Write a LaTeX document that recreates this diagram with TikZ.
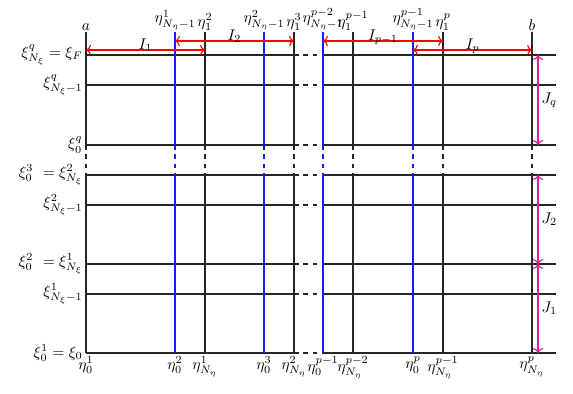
\documentclass[tikz,border=0pt]{standalone}
\usetikzlibrary{arrows.meta}
\definecolor{jpink}{RGB}{235,30,150}
\begin{document}
\begin{tikzpicture}[x=0.645pt,y=-0.645pt,
  gridline/.style={line width=0.85pt,black!85},
  blueline/.style={line width=0.85pt,blue!90!white},
  iarrow/.style={<->,red,line width=0.7pt},
  jarrow/.style={<->,jpink,line width=0.7pt},
  toplab/.style={above,inner sep=1pt},
  botlab/.style={below,inner sep=1pt},
  leftlab/.style={left,inner sep=2pt},
  ilab/.style={midway,anchor=base,inner sep=0pt,yshift=0.3pt,text=black},
  jlab/.style={midway,right,inner sep=2pt,text=black},
]
\useasboundingbox (0,0) rectangle (573,394);
% horizontal grid lines
\foreach \y in {55,85,145,175,205,264,294,353}{
  \draw[gridline] (86,\y) -- (294,\y);
  \draw[gridline,dashed] (294,\y) -- (323,\y);
  \draw[gridline] (323,\y) -- (556,\y);
}
% vertical grid lines
\foreach \x/\s in {86/gridline,175/blueline,205/gridline,264/blueline,294/gridline,323/blueline,353/gridline,413/blueline,443/gridline,532/gridline}{
  \draw[\s] (\x,32) -- (\x,145);
  \draw[\s,dashed] (\x,145) -- (\x,175);
  \draw[\s] (\x,175) -- (\x,353);
}
% top labels
\node[toplab] (ta) at (86,32) {$a$};
\node[toplab] (t1) at (175,32) {$\eta^1_{N_\eta-1}$};
\node[toplab] (t2) at (205,32) {$\eta^2_1$};
\node[toplab] (t3) at (264,32) {$\eta^2_{N_\eta-1}$};
\node[toplab] (t4) at (294,32) {$\eta^3_1$};
\node[toplab] (t5) at (323,32) {$\eta^{p-2}_{N_\eta-1}$};
\node[toplab] (t6) at (353,32) {$\eta^{p-1}_1$};
\node[toplab] (t7) at (413,32) {$\eta^{p-1}_{N_\eta-1}$};
\node[toplab] (t8) at (443,32) {$\eta^p_1$};
\node[toplab] (tb) at (532,32) {$b$};
% bottom labels
\node[botlab] (b0) at (86,355) {$\eta^1_0$};
\node[botlab] (b1) at (175,355) {$\eta^2_0$};
\node[botlab] (b2) at (205,355) {$\eta^1_{N_\eta}$};
\node[botlab] (b3) at (264,355) {$\eta^3_0$};
\node[botlab] (b4) at (294,355) {$\eta^2_{N_\eta}$};
\node[botlab] (b5) at (323,355) {$\eta^{p-1}_0$};
\node[botlab] (b6) at (353,355) {$\eta^{p-2}_{N_\eta}$};
\node[botlab] (b7) at (413,355) {$\eta^p_0$};
\node[botlab] (b8) at (443,355) {$\eta^{p-1}_{N_\eta}$};
\node[botlab] (b9) at (532,355) {$\eta^p_{N_\eta}$};
% left labels
\node[leftlab] (l1) at (86,55) {$\xi^q_{N_\xi}=\xi_F$};
\node[leftlab] (l2) at (86,85) {$\xi^q_{N_\xi-1}$};
\node[leftlab] (l3) at (86,145) {$\xi^q_0$};
\node[leftlab] (l4) at (86,175) {$\xi^3_0\ =\xi^2_{N_\xi}$};
\node[leftlab] (l5) at (86,205) {$\xi^2_{N_\xi-1}$};
\node[leftlab] (l6) at (86,264) {$\xi^2_0\ =\xi^1_{N_\xi}$};
\node[leftlab] (l7) at (86,294) {$\xi^1_{N_\xi-1}$};
\node[leftlab] (l8) at (86,353) {$\xi^1_0=\xi_0$};
% I arrows
\coordinate (i1a) at (86,50);  \coordinate (i1b) at (205,50);
\coordinate (i2a) at (175,41); \coordinate (i2b) at (294,41);
\coordinate (i3a) at (323,41); \coordinate (i3b) at (443,41);
\coordinate (i4a) at (413,50); \coordinate (i4b) at (532,50);
\draw[iarrow] (i1a) -- node[ilab]{$I_1$} (i1b);
\draw[iarrow] (i2a) -- node[ilab]{$I_2$} (i2b);
\draw[iarrow] (i3a) -- node[ilab]{$I_{p-1}$} (i3b);
\draw[iarrow] (i4a) -- node[ilab]{$I_p$} (i4b);
% J arrows
\coordinate (j1a) at (538,353); \coordinate (j1b) at (538,264);
\coordinate (j2a) at (538,264); \coordinate (j2b) at (538,175);
\coordinate (jqa) at (538,145); \coordinate (jqb) at (538,55);
\draw[jarrow] (j1a) -- node[jlab]{$J_1$} (j1b);
\draw[jarrow] (j2a) -- node[jlab]{$J_2$} (j2b);
\draw[jarrow] (jqa) -- node[jlab]{$J_q$} (jqb);
\end{tikzpicture}
\end{document}
